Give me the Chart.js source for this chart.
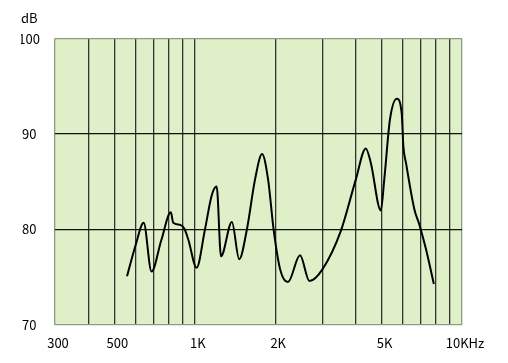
<!DOCTYPE html>
<html>
<head>
<meta charset="utf-8">
<script src="https://cdn.jsdelivr.net/npm/chart.js"></script>
<style>
  html, body { margin: 0; padding: 0; background: #fff; }
  #wrap { width: 508px; height: 363px; }
</style>
</head>
<body>
<div id="wrap"><canvas id="grafico" width="508" height="363"></canvas></div>
<script>
// Resposta em frequência (Hz -> dB)
const freqs = [558, 600, 644, 689, 750, 814, 831, 880, 914, 947, 1016, 1092, 1158, 1208, 1254, 1377, 1467, 1567, 1680, 1786, 1882, 1973, 2089, 2232, 2477, 2687, 3000, 3516, 4003, 4366, 4557, 4968, 5117, 5374, 5707, 5947, 6035, 6170, 6636, 6927, 7338, 7846];
const dB = [75.1, 78.3, 80.7, 75.6, 78.9, 81.8, 80.7, 80.5, 80.1, 78.9, 76.0, 80.0, 83.6, 84.5, 77.2, 80.8, 76.9, 80.0, 85.2, 87.9, 85.2, 80.0, 75.8, 74.5, 77.3, 74.6, 75.8, 79.8, 85.2, 88.5, 87.0, 82.0, 85.2, 91.5, 93.7, 92.2, 88.7, 87.0, 82.1, 80.5, 77.9, 74.3];

const xTicks = [300, 400, 500, 600, 700, 800, 900, 1000, 2000, 3000, 4000, 5000, 6000, 7000, 8000, 9000, 10000];
const xLabels = { 300: '300', 500: '500', 1000: '1K', 2000: '2K', 5000: '5K', 10000: '10KHz' };
const yTicks = [70, 80, 90, 100];

const fonte = { family: "'Noto Sans CJK JP', 'Noto Sans', sans-serif", size: 13 };

// fundo verde da área do gráfico
const fundo = {
  id: 'fundo',
  beforeDraw(chart) {
    const { ctx, chartArea: a } = chart;
    ctx.save();
    ctx.fillStyle = '#dfefc8';
    ctx.fillRect(a.left, a.top, a.right - a.left, a.bottom - a.top);
    ctx.restore();
  }
};

new Chart(document.getElementById('grafico'), {
  type: 'line',
  data: {
    datasets: [{
      data: freqs.map((f, i) => ({ x: f, y: dB[i] })),
      borderColor: '#000',
      borderWidth: 2,
      pointRadius: 0,
      cubicInterpolationMode: 'monotone',
      fill: false
    }]
  },
  options: {
    responsive: false,
    animation: false,
    layout: { padding: { left: 21, right: 46, top: 10, bottom: 12 } },
    plugins: {
      legend: { display: false },
      tooltip: { enabled: false },
      title: {
        display: true,
        text: 'dB',
        align: 'start',
        color: '#000',
        font: { ...fonte, weight: 'normal' },
        padding: { top: 0, bottom: 13 }
      }
    },
    scales: {
      x: {
        type: 'logarithmic',
        min: 300,
        max: 10000,
        afterBuildTicks: s => { s.ticks = xTicks.map(v => ({ value: v })); },
        afterFit: s => { s.height = 26; },
        ticks: {
          autoSkip: false,
          maxRotation: 0,
          padding: 10,
          labelOffset: 3,
          color: '#000',
          font: fonte,
          callback: v => xLabels[v] || ''
        },
        grid: {
          drawTicks: false,
          lineWidth: 1.3,
          color: c => (c.tick && (c.tick.value === 300 || c.tick.value === 10000)) ? '#8e9a86' : '#333'
        },
        border: { display: false }
      },
      y: {
        min: 70,
        max: 100,
        afterBuildTicks: s => { s.ticks = yTicks.map(v => ({ value: v })); },
        afterFit: s => { s.width = 34; },
        ticks: {
          padding: 15,
          crossAlign: 'center',
          color: '#000',
          font: fonte
        },
        grid: {
          drawTicks: false,
          lineWidth: 1.3,
          color: c => (c.tick && (c.tick.value === 70 || c.tick.value === 100)) ? '#8e9a86' : '#111'
        },
        border: { display: false }
      }
    }
  },
  plugins: [fundo]
});
</script>
</body>
</html>
